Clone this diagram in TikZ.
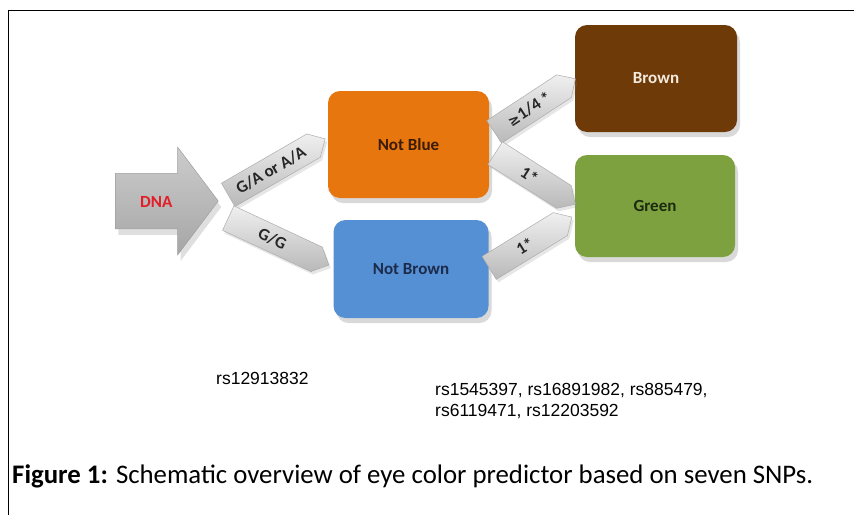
\documentclass[tikz,border=0pt]{standalone}
\usepackage{fontspec}
\setmainfont{Carlito}
\newfontfamily\arialf{Liberation Sans}
\newfontfamily\symf{DejaVu Sans}
\usetikzlibrary{shapes.arrows,shadows,calc}
\definecolor{cOrange}{RGB}{232,118,14}
\definecolor{cBlue}{RGB}{86,144,212}
\definecolor{cBrown}{RGB}{110,58,8}
\definecolor{cGreen}{RGB}{126,161,63}
\definecolor{tOrange}{RGB}{58,28,5}
\definecolor{tBlue}{RGB}{28,43,74}
\definecolor{tBrown}{RGB}{243,235,221}
\definecolor{tGreen}{RGB}{28,42,14}
\definecolor{cRed}{RGB}{226,30,40}
\begin{document}
\begin{tikzpicture}[x=1pt,y=-1pt,
  colbox/.style={rounded corners=12pt, draw=none, inner sep=0pt,
    font=\fontsize{17}{20}\selectfont\bfseries,
    drop shadow={opacity=0.3, shadow xshift=3pt, shadow yshift=-5pt}},
  band/.style={single arrow, single arrow head extend=0pt, single arrow tip angle=90,
    shading=axis, top color=gray!12, bottom color=gray!55, draw=gray!65, line width=0.5pt,
    minimum width=27pt, inner sep=0pt, anchor=tail,
    font=\fontsize{17}{20}\selectfont\bfseries, text=black!85,
    drop shadow={opacity=0.2, shadow xshift=2pt, shadow yshift=-3pt}},
  dnaarrow/.style={single arrow, single arrow head extend=26pt, single arrow tip angle=106,
    shading=axis, top color=gray!40, bottom color=gray!70, draw=gray!75, line width=0.5pt,
    minimum width=107pt, minimum height=103pt, inner xsep=0pt, inner ysep=21.5pt,
    text height=12pt, text depth=0pt, anchor=tail,
    font=\fontsize{17}{20}\selectfont\bfseries, text=cRed,
    drop shadow={opacity=0.25, shadow xshift=3pt, shadow yshift=-6pt}},
  rstext/.style={font=\arialf\fontsize{17.5}{21}\selectfont, inner sep=0pt, align=left}
]
\useasboundingbox (0,0) rectangle (854,515);
\draw[line width=1.6pt] (8.5,515) -- (8.5,10.5) -- (854,10.5);

% boxes
\node[colbox, fill=cOrange, text=tOrange, minimum width=161pt, minimum height=107pt] (nb) at (408.5,144.5) {Not Blue};
\node[colbox, fill=cBlue, text=tBlue, minimum width=155pt, minimum height=98pt] (nbr) at (411,269) {Not Brown};
\node[colbox, fill=cBrown, text=tBrown, minimum width=162pt, minimum height=107pt] (br) at (656,78.5) {Brown};
\node[colbox, fill=cGreen, text=tGreen, minimum width=160pt, minimum height=102pt] (gr) at (655,206) {Green};

% DNA arrow
\node[dnaarrow] (dna) at (115,201) {DNA};

% band arrows
\node[band, rotate=30, minimum height=112pt] (a1) at (228,195) {G/A or A/A};
\node[band, rotate=-25, minimum height=111pt] (a2) at (228,218) {G/G};
\node[band, rotate=33.2, minimum height=97pt] (a3) at (494,132) {{\symf\bfseries\fontsize{14}{16}\selectfont ≥}1/4 *};
\node[band, rotate=-32.5, minimum height=95pt] (a4) at (495,153) {1*};
\node[band, rotate=31.6, minimum height=97pt] (a5) at (489,268) {1*};

% SNP labels
\node[rstext, anchor=west] (rs1) at (216,378) {rs12913832};
\node[rstext, anchor=north west] (rs2) at (435,383) {rs1545397, rs16891982, rs885479,\\rs6119471, rs12203592};

% caption
\node[anchor=west, inner sep=0pt, font=\fontsize{26.8}{30}\selectfont] (cap) at (12,476) {\textbf{Figure 1:} Schematic overview of eye color predictor based on seven SNPs.};
\end{tikzpicture}
\end{document}
